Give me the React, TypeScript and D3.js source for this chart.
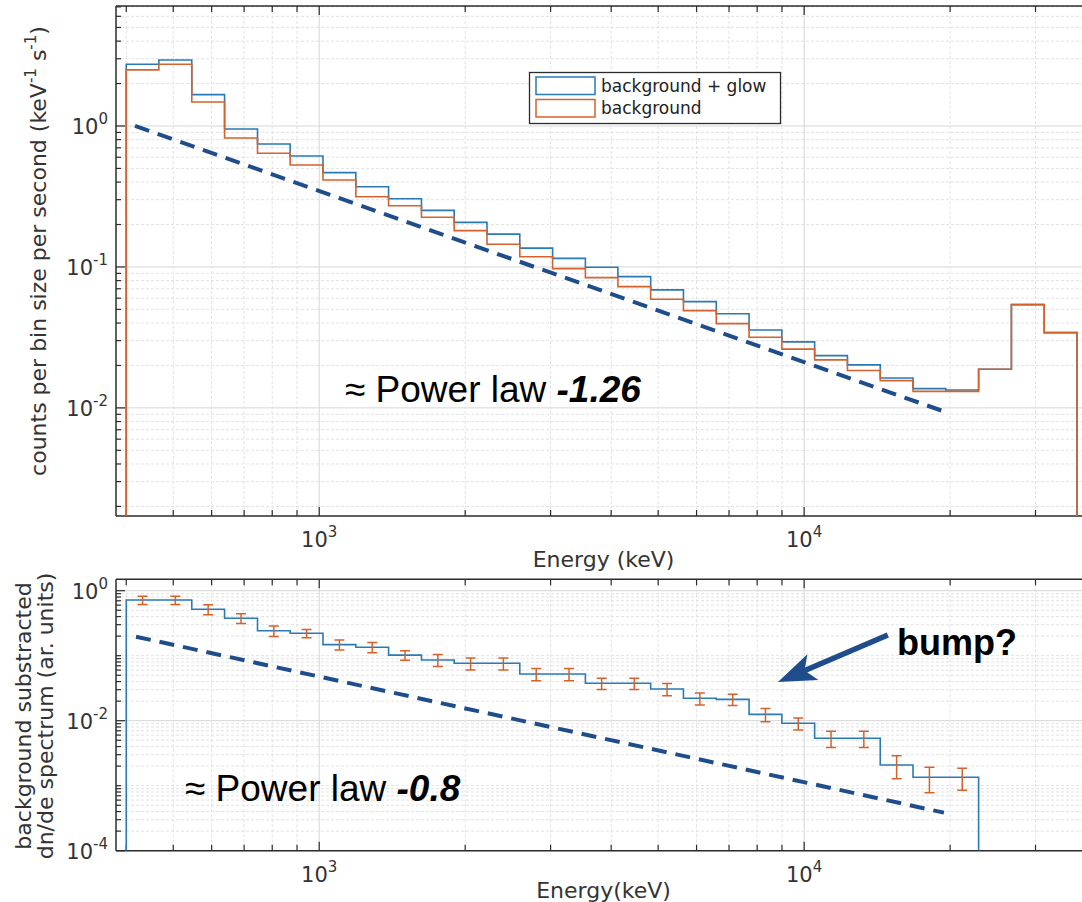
import React from 'react';
import * as d3 from 'd3';

// Logarithmic energy bin edges (keV), shared by both panels
const binEdges = [
  400, 467, 546, 638, 746, 871, 1018, 1190, 1390, 1625, 1898, 2218, 2592, 3029, 3539,
  4130, 4825, 5638, 6588, 7699, 8996, 10511, 12282, 14352, 16770, 19596, 22898, 26756,
  31264, 36532,
];

// Upper panel: counts per bin size per second
const bgGlow = [
  2.74, 2.94, 1.67, 0.952, 0.745, 0.613, 0.467, 0.371, 0.305, 0.252, 0.207, 0.171, 0.136,
  0.115, 0.0995, 0.0853, 0.0687, 0.0567, 0.0466, 0.0357, 0.0294, 0.0235, 0.0202, 0.0163,
  0.0137, 0.0134, 0.0188, 0.054, 0.0342,
];
const bgOnly = [
  2.5, 2.74, 1.48, 0.822, 0.64, 0.529, 0.414, 0.315, 0.272, 0.225, 0.181, 0.145, 0.118,
  0.0973, 0.084, 0.0725, 0.059, 0.049, 0.0396, 0.0317, 0.0261, 0.0219, 0.0184, 0.0156,
  0.0131, 0.0131, 0.0188, 0.054, 0.0342,
];

// Lower panel: background subtracted dn/dE spectrum with 1-sigma errors
const subtracted = [
  0.719, 0.719, 0.518, 0.376, 0.242, 0.221, 0.148, 0.135, 0.102, 0.0859, 0.0764, 0.0764,
  0.0523, 0.0523, 0.0376, 0.0376, 0.0307, 0.0221, 0.0213, 0.0125, 0.00912, 0.00536,
  0.00536, 0.00208, 0.00135, 0.00135,
];
const subtractedErr = [
  0.105, 0.105, 0.09, 0.064, 0.044, 0.033, 0.026, 0.024, 0.017, 0.018, 0.016, 0.016, 0.011,
  0.011, 0.0073, 0.0073, 0.0065, 0.0046, 0.0042, 0.0029, 0.0019, 0.0015, 0.0015, 0.0008,
  0.00057, 0.0005,
];

// Labelled (major) ticks
const xMajorTicks = [1000, 10000];
const topYMajorTicks = [0.01, 0.1, 1];
const bottomYMajorTicks = [1e-4, 1e-2, 1];

// Guide lines and annotation anchors in data units (keV, value)
const powerLawTop = [
  [417, 1.0],
  [19200, 0.00957],
];
const powerLawBottom = [
  [419, 0.196],
  [19420, 0.000385],
];
const bumpArrow = [
  [14880, 0.208],
  [8830, 0.0394],
];

const legendLabels = ['background + glow', 'background'];
const seriesColors = ['#2a7ab5', '#d4622c'];
const guideColor = '#1f4d8c';

const W = 1082;
const H = 902;
const L = 116;
const R = 1077;
const FRAME_R = 1082;
const AXIS = '#2b2b2b';
const TICK_FONT = "'DejaVu Sans', sans-serif";
const NOTE_FONT = "'Liberation Sans', Arial, sans-serif";

const x = d3.scaleLog().domain([381, 36532]).range([L, R]);

const top = {
  y0: 6,
  y1: 516,
  majors: topYMajorTicks,
  scale: d3.scaleLog().domain([0.00171, 7.1]).range([516, 6]),
};
const bot = {
  y0: 579.3,
  y1: 850.7,
  majors: bottomYMajorTicks,
  scale: d3.scaleLog().domain([1e-4, 1.497]).range([850.7, 579.3]),
};

const inList = (list: number[]) => (v: number) => list.some((m) => Math.abs(m - v) / m < 1e-9);

function stepPath(values: number[], y: d3.ScaleLogarithmic<number, number>) {
  const floor = y.domain()[0];
  const n = values.length;
  const pts: [number, number][] = [[binEdges[0], floor]];
  for (let i = 0; i < n; i++) pts.push([binEdges[i], values[i]]);
  pts.push([binEdges[n], values[n - 1]]);
  pts.push([binEdges[n], floor]);
  return d3
    .line<[number, number]>()
    .x((d) => x(d[0]))
    .y((d) => y(d[1]))
    .curve(d3.curveStepAfter)(pts) as string;
}

function Sup({ base, exp, ...rest }: any) {
  return (
    <text {...rest}>
      {base}
      <tspan dy={-10} fontSize={15}>
        {exp}
      </tspan>
    </text>
  );
}

function Panel({ p, xLabel, labelDy }: { p: any; xLabel: string; labelDy: number }) {
  const y = p.scale as d3.ScaleLogarithmic<number, number>;
  const xMaj = inList(xMajorTicks);
  const yMaj = inList(p.majors);
  const xt = x.ticks().filter((t) => x(t) >= L && x(t) <= FRAME_R);
  const yt = Array.from(new Set([...y.ticks(), ...p.majors])).sort((a, b) => a - b);
  return (
    <g>
      {/* grid */}
      {yt.map((t, i) => (
        <line
          key={'gy' + i}
          x1={L}
          x2={FRAME_R}
          y1={y(t)}
          y2={y(t)}
          stroke={yMaj(t) ? '#d6d6d6' : '#e2e2e2'}
          strokeWidth={1}
          strokeDasharray={yMaj(t) ? undefined : '3,2'}
        />
      ))}
      {xt.map((t, i) => (
        <line
          key={'gx' + i}
          x1={x(t)}
          x2={x(t)}
          y1={p.y0}
          y2={p.y1}
          stroke={xMaj(t) ? '#d6d6d6' : '#e2e2e2'}
          strokeWidth={1}
          strokeDasharray={xMaj(t) ? undefined : '3,2'}
        />
      ))}
      {/* frame */}
      <line x1={L} x2={FRAME_R} y1={p.y0} y2={p.y0} stroke={AXIS} strokeWidth={1.5} />
      <line x1={L} x2={FRAME_R} y1={p.y1} y2={p.y1} stroke={AXIS} strokeWidth={1.5} />
      <line x1={L} x2={L} y1={p.y0} y2={p.y1} stroke={AXIS} strokeWidth={1.5} />
      {/* ticks */}
      {xt.map((t, i) => {
        const len = xMaj(t) ? 9 : 6;
        return (
          <g key={'tx' + i}>
            <line x1={x(t)} x2={x(t)} y1={p.y1} y2={p.y1 - len} stroke={AXIS} strokeWidth={1.2} />
            <line x1={x(t)} x2={x(t)} y1={p.y0} y2={p.y0 + len} stroke={AXIS} strokeWidth={1.2} />
          </g>
        );
      })}
      {yt.map((t, i) => (
        <line
          key={'ty' + i}
          x1={L}
          x2={L + (yMaj(t) ? 9 : 5)}
          y1={y(t)}
          y2={y(t)}
          stroke={AXIS}
          strokeWidth={1.2}
        />
      ))}
      {/* tick labels */}
      {xMajorTicks.map((t, i) => (
        <Sup
          key={'lx' + i}
          base="10"
          exp={String(Math.round(Math.log10(t)))}
          x={x(t)}
          y={p.y1 + 31}
          textAnchor="middle"
          fontFamily={TICK_FONT}
          fontSize={21}
          fill="#333"
        />
      ))}
      {p.majors.map((t: number, i: number) => (
        <Sup
          key={'ly' + i}
          base="10"
          exp={String(Math.round(Math.log10(t)))}
          x={108}
          y={y(t) + 8}
          textAnchor="end"
          fontFamily={TICK_FONT}
          fontSize={21}
          fill="#333"
        />
      ))}
      <text
        x={(L + R) / 2 + 7}
        y={p.y1 + labelDy}
        textAnchor="middle"
        fontFamily={TICK_FONT}
        fontSize={22}
        fill="#333"
      >
        {xLabel}
      </text>
    </g>
  );
}

function guidePath(pts: number[][], y: d3.ScaleLogarithmic<number, number>) {
  return d3
    .line<number[]>()
    .x((d) => x(d[0]))
    .y((d) => y(d[1]))(pts) as string;
}

export default function App() {
  const yT = top.scale;
  const yB = bot.scale;

  // arrow geometry
  const [sx, sy] = [x(bumpArrow[0][0]), yB(bumpArrow[0][1])];
  const [tx, ty] = [x(bumpArrow[1][0]), yB(bumpArrow[1][1])];
  const len = Math.hypot(tx - sx, ty - sy);
  const ux = (tx - sx) / len;
  const uy = (ty - sy) / len;
  const nx = -uy;
  const ny = ux;
  const headL = 38;
  const headW = 14;
  const head = [
    [tx, ty],
    [tx - ux * headL + nx * headW, ty - uy * headL + ny * headW],
    [tx - ux * (headL - 9), ty - uy * (headL - 9)],
    [tx - ux * headL - nx * headW, ty - uy * headL - ny * headW],
  ];

  return (
    <div style={{ position: 'absolute', left: 0, top: 0 }}>
      <svg width={W} height={H} style={{ display: 'block', background: '#fff' }}>
        <defs>
          <clipPath id="clipTop">
            <rect x={L} y={top.y0} width={FRAME_R - L} height={top.y1 - top.y0} />
          </clipPath>
          <clipPath id="clipBot">
            <rect x={L} y={bot.y0} width={FRAME_R - L} height={bot.y1 - bot.y0} />
          </clipPath>
        </defs>
        <rect x={0} y={0} width={W} height={H} fill="#fff" />

        {/* upper panel */}
        <Panel p={top} xLabel="Energy (keV)" labelDy={51} />
        <g clipPath="url(#clipTop)">
          <path d={stepPath(bgGlow, yT)} fill="none" stroke={seriesColors[0]} strokeWidth={1.6} />
          <path d={stepPath(bgOnly, yT)} fill="none" stroke={seriesColors[1]} strokeWidth={1.6} />
        </g>
        <path
          d={guidePath(powerLawTop, yT)}
          fill="none"
          stroke={guideColor}
          strokeWidth={4}
          strokeDasharray="15,9"
        />
        {/* legend */}
        <g>
          <rect x={529.5} y={72.5} width={251} height={51} fill="#fff" stroke={AXIS} strokeWidth={1.3} />
          {legendLabels.map((lab, i) => (
            <g key={lab}>
              <rect
                x={536}
                y={77 + i * 22.5}
                width={59}
                height={17.5}
                fill="#fff"
                stroke={seriesColors[i]}
                strokeWidth={1.5}
              />
              <text x={601} y={91.5 + i * 22.5} fontFamily={TICK_FONT} fontSize={17} fill="#222">
                {lab}
              </text>
            </g>
          ))}
        </g>
        <g transform="translate(46,251) rotate(-90)">
          <text textAnchor="middle" fontFamily={TICK_FONT} fontSize={22} fill="#333">
            counts per bin size per second (keV
            <tspan dy={-10} fontSize={15}>
              -1
            </tspan>
            <tspan dy={10}> s</tspan>
            <tspan dy={-10} fontSize={15}>
              -1
            </tspan>
            <tspan dy={10}>)</tspan>
          </text>
        </g>
        <text x={345} y={401.5} fontFamily={NOTE_FONT} fontSize={37} fill="#000">
          ≈ Power law{' '}
          <tspan fontWeight="bold" fontStyle="italic">
            -1.26
          </tspan>
        </text>

        {/* lower panel */}
        <Panel p={bot} xLabel="Energy(keV)" labelDy={47} />
        <g clipPath="url(#clipBot)">
          <path d={stepPath(subtracted, yB)} fill="none" stroke={seriesColors[0]} strokeWidth={1.6} />
          {subtracted.map((v, i) => {
            const cx = x(Math.sqrt(binEdges[i] * binEdges[i + 1]));
            const yHi = yB(v + subtractedErr[i]);
            const yLo = yB(Math.max(v - subtractedErr[i], 1e-5));
            return (
              <g key={'e' + i} stroke={seriesColors[1]} strokeWidth={1.5}>
                <line x1={cx} x2={cx} y1={yHi} y2={yLo} />
                <line x1={cx - 5} x2={cx + 5} y1={yHi} y2={yHi} />
                <line x1={cx - 5} x2={cx + 5} y1={yLo} y2={yLo} />
              </g>
            );
          })}
        </g>
        <path
          d={guidePath(powerLawBottom, yB)}
          fill="none"
          stroke={guideColor}
          strokeWidth={4}
          strokeDasharray="15,9"
        />
        <line
          x1={sx}
          y1={sy}
          x2={tx - ux * (headL - 10)}
          y2={ty - uy * (headL - 10)}
          stroke={guideColor}
          strokeWidth={5.5}
        />
        <polygon points={head.map((q) => q.join(',')).join(' ')} fill={guideColor} />
        <text x={897} y={655} fontFamily={NOTE_FONT} fontSize={36} fontWeight="bold" fill="#000">
          bump?
        </text>
        <text x={185} y={801} fontFamily={NOTE_FONT} fontSize={37} fill="#000">
          ≈ Power law{' '}
          <tspan fontWeight="bold" fontStyle="italic">
            -0.8
          </tspan>
        </text>
        <g transform="translate(0,716) rotate(-90)">
          <text x={0} y={31} textAnchor="middle" fontFamily={TICK_FONT} fontSize={22} fill="#333">
            background substracted
          </text>
          <text x={0} y={53} textAnchor="middle" fontFamily={TICK_FONT} fontSize={22} fill="#333">
            dn/de spectrum (ar. units)
          </text>
        </g>
      </svg>
    </div>
  );
}
